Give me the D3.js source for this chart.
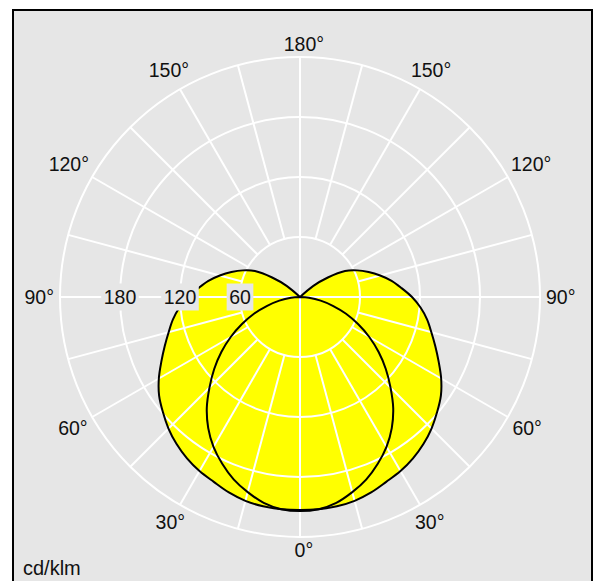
<!DOCTYPE html>
<html><head><meta charset="utf-8">
<script src="https://cdn.jsdelivr.net/npm/d3@7"></script>
<style>html,body{margin:0;padding:0;background:#fff;} svg{display:block;}</style>
</head><body>
<svg id="chart" width="595" height="581"></svg>
<script>
// gamma angles (degrees from nadir)
const gammaDeg = [0,5,10,15,20,25,30,35,40,45,50,55,60,65,70,75,80,85,90,95,100,105,110,115,120,125,130,135,140,145,150,155,160,165,170,175,180];
// C0-C180 plane (cd/klm)
const planeC0C180 = [214,213,209,202,194,184,173,160,145,128,112,96,80,64,49,34,21,9,0,0,0,0,0,0,0,0,0,0,0,0,0,0,0,0,0,0,0];
// C90-C270 plane (cd/klm)
const planeC90C270 = [213,213,212.5,211,208,204,201,197,192,186,179,172,163,153,144,136,129,121,112,102,93,83,73,63,52,34,17,0,0,0,0,0,0,0,0,0,0];
const ringValues = [60,120,180,240];
const ringLabelValues = [60,120,180];
const angleLabelValues = [0,30,60,90,120,150,180];
const unitLabel = "cd/klm";

const cx = 300, cy = 297;
const svg = d3.select("#chart");
const font = "Liberation Sans, Arial, sans-serif";
const fs = 19.5;

svg.append("rect").attr("x",13).attr("y",10).attr("width",579).attr("height",620)
  .attr("fill","#e6e6e6").attr("stroke","#000").attr("stroke-width",2);

const rScale = d3.scaleLinear().domain([0,240]).range([0,240]);
const g = svg.append("g").attr("transform",`translate(${cx},${cy})`);
const rad = d => d*Math.PI/180;

function halfPoints(values){
  const pts=[];
  for(let i=0;i<gammaDeg.length;i++){ pts.push([gammaDeg[i], values[i]]); if(values[i]===0 && i>0) break; }
  return pts;
}
function planePath(values){
  const half = halfPoints(values);
  const pts=[];
  for(let i=half.length-1;i>=0;i--) pts.push({a:Math.PI - rad(half[i][0]), r:half[i][1]});
  for(let i=1;i<half.length;i++) pts.push({a:Math.PI + rad(half[i][0]), r:half[i][1]});
  return d3.lineRadial().angle(d=>d.a).radius(d=>rScale(d.r)).curve(d3.curveCatmullRom.alpha(0.5))(pts);
}
const planes = [planeC90C270, planeC0C180];

// fills
g.selectAll("path.fill").data(planes).join("path").attr("class","fill")
  .attr("d", d=>planePath(d)+"Z").attr("fill","#ffff00").attr("stroke","none");

// grid
g.selectAll("circle.ring").data(ringValues).join("circle").attr("class","ring")
  .attr("r", d=>rScale(d)).attr("fill","none").attr("stroke","#fff").attr("stroke-width",2);
const spokes = d3.range(0,360,15);
g.selectAll("line.spoke").data(spokes).join("line").attr("class","spoke")
  .attr("x1", d=>d3.pointRadial(rad(d), d%90===0?0:rScale(60))[0])
  .attr("y1", d=>d3.pointRadial(rad(d), d%90===0?0:rScale(60))[1])
  .attr("x2", d=>d3.pointRadial(rad(d), rScale(240))[0])
  .attr("y2", d=>d3.pointRadial(rad(d), rScale(240))[1])
  .attr("stroke","#fff").attr("stroke-width",2);

// outlines
g.selectAll("path.outline").data(planes).join("path").attr("class","outline")
  .attr("d", d=>planePath(d)+"Z").attr("fill","none").attr("stroke","#000").attr("stroke-width",2).attr("stroke-linejoin","round");

// ring labels with background boxes
ringLabelValues.forEach(v=>{
  const t = g.append("text").attr("x",-rScale(v)).attr("y",0).attr("text-anchor","middle")
    .attr("dominant-baseline","central").attr("font-family",font).attr("font-size",fs).attr("fill","#111").text(v);
  const w = t.node().getComputedTextLength();
  g.insert("rect", function(){return t.node();}).attr("x",-rScale(v)-w/2-2.5).attr("y",-13.5)
    .attr("width",w+5).attr("height",27).attr("fill","#e6e6e6");
});

// angle labels
const angleItems = [];
angleLabelValues.forEach(v=>{
  angleItems.push({v, a: Math.PI - rad(v)});
  if(v!==0 && v!==180) angleItems.push({v, a: Math.PI + rad(v)});
});
angleItems.forEach(it=>{
  const dx = Math.sin(it.a), dy = -Math.cos(it.a);
  const t = g.append("text").attr("font-family",font).attr("font-size",fs).attr("fill","#111")
    .attr("dominant-baseline","central").attr("text-anchor","start").text(it.v+"°");
  const w = t.node().getComputedTextLength();
  let numW = w;
  if(it.v===0 || it.v===180){
    const tmp = g.append("text").attr("font-family",font).attr("font-size",fs).text(String(it.v));
    numW = tmp.node().getComputedTextLength(); tmp.remove();
  }
  const halfW = w/2, halfH = 7;
  const R = rScale(240) + 6 + Math.abs(dx)*halfW + Math.abs(dy)*halfH;
  const px = dx*R, py = dy*R;
  t.attr("x", px - numW/2).attr("y", py);
});

svg.append("text").attr("x",23).attr("y",575).attr("font-family",font).attr("font-size",20)
  .attr("fill","#111").text(unitLabel);
</script>
</body></html>
